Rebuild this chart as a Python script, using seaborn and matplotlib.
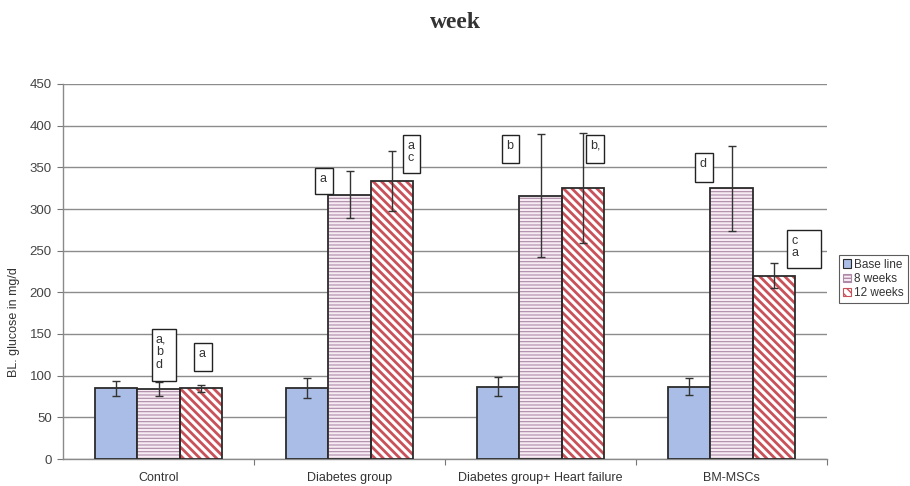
import numpy as np
import pandas as pd
import matplotlib
matplotlib.use("Agg")
import matplotlib.pyplot as plt
import seaborn as sns
from matplotlib.patches import Patch, Rectangle

# ---------------- data ----------------
groups = ["Control", "Diabetes group", "Diabetes group+ Heart failure", "BM-MSCs"]
periods = ["Base line", "8 weeks", "12 weeks"]
baseline = [85, 85, 87, 87]
weeks8 = [84, 317, 316, 325]
weeks12 = [85, 334, 325, 220]
err_baseline = [9, 12, 11, 10]
err_weeks8 = [8, 28, 74, 51]
err_weeks12 = [4, 36, 66, 15]
annot_texts = ["a,\nb\nd", "a", "a", "a\nc", "b", "b,", "d", "c\na"]
yticks = [0, 50, 100, 150, 200, 250, 300, 350, 400, 450]

# ---------------- layout (box x0, x1, y0, y1 in data units) ----------------
annot_boxes = [(-0.036, 0.09, 94, 156), (0.185, 0.28, 106, 139),
               (0.82, 0.915, 318, 349), (1.28, 1.37, 343, 389),
               (1.80, 1.89, 355, 389), (2.24, 2.335, 355, 389),
               (2.81, 2.905, 332, 367), (3.29, 3.47, 229, 275)]

df = pd.DataFrame({
    "group": np.repeat(groups, 3),
    "period": periods * 4,
    "value": np.ravel(np.column_stack([baseline, weeks8, weeks12])),
})
errs = {"Base line": err_baseline, "8 weeks": err_weeks8, "12 weeks": err_weeks12}

sns.set_theme(style="white")
plt.rcParams["font.family"] = ["Liberation Sans", "DejaVu Sans"]

fig = plt.figure(figsize=(9.1, 4.86), dpi=100)
ax = fig.add_axes([63 / 910, 27 / 486, 764 / 910, 375 / 486])

styles = {
    "Base line": dict(fc="#a9bde6", hatch=None, hc=None, hlw=1.0),
    "8 weeks": dict(fc="#f7ecf3", hatch="-----", hc="#ae8aa8", hlw=0.8),
    "12 weeks": dict(fc="#ffffff", hatch="\\\\\\\\", hc="#c9515a", hlw=2.0),
}

sns.barplot(data=df, x="group", y="value", hue="period", order=groups,
            hue_order=periods, width=0.66, errorbar=None, ax=ax,
            legend=False, zorder=3)

edge = "#2b2b2b"
for cont, per in zip(ax.containers, periods):
    st = styles[per]
    for bar in cont:
        bar.set_facecolor(st["fc"])
        bar.set_edgecolor(edge)
        bar.set_linewidth(1.3)
        if st["hatch"]:
            # hatch layer drawn with its own colour, outline drawn on top
            bar.set_edgecolor(st["hc"])
            bar.set_hatch(st["hatch"])
            if hasattr(bar, "set_hatch_linewidth"):
                bar.set_hatch_linewidth(st["hlw"])
            bar.set_linewidth(0)
            ax.add_patch(Rectangle(bar.get_xy(), bar.get_width(), bar.get_height(),
                                   fill=False, ec=edge, lw=1.3, zorder=3.5))
        xc = bar.get_x() + bar.get_width() / 2
        ci = int(round(xc))
        ax.errorbar(xc, bar.get_height(), yerr=errs[per][ci], fmt="none",
                    ecolor="#333333", elinewidth=1.0, capsize=3, capthick=1.0,
                    zorder=4)

# annotation boxes
for txt, (x0, x1, y0, y1) in zip(annot_texts, annot_boxes):
    ax.add_patch(Rectangle((x0, y0), x1 - x0, y1 - y0, fc="white", ec="#222222",
                           lw=1.0, zorder=6, clip_on=False))
    ax.text(x0 + 0.022, y1 - 6, txt, ha="left", va="top", fontsize=9,
            linespacing=1.05, color="#333333", zorder=7)

ax.set_ylim(0, 450)
ax.set_xlim(-0.5, 3.5)
ax.set_yticks(yticks)
ax.set_yticklabels([str(t) for t in yticks], fontsize=9.5, color="#444444")
ax.yaxis.grid(True, color="#8c8c8c", lw=1.0, zorder=0)
ax.set_axisbelow(True)
ax.tick_params(axis="y", length=4, width=0.8, color="#777777", pad=4, left=True)
ax.set_xticks(range(4))
ax.set_xticklabels(groups, fontsize=9, color="#333333")
ax.set_xticks([0.5, 1.5, 2.5, 3.5], minor=True)
ax.tick_params(axis="x", which="major", length=0, pad=9)
ax.tick_params(axis="x", which="minor", length=4, width=0.8, color="#777777", bottom=True)
for s in ["top", "right"]:
    ax.spines[s].set_visible(False)
for s in ["left", "bottom"]:
    ax.spines[s].set_color("#8a8a8a")
    ax.spines[s].set_linewidth(1.0)
ax.set_xlabel("")
ax.set_ylabel("BL. glucose in mg/d", fontsize=9, color="#333333")
ax.yaxis.set_label_coords(-0.056, 0.365)

handles = []
for per in periods:
    st = styles[per]
    handles.append(Patch(fc=st["fc"], ec=st["hc"] if st["hatch"] else edge,
                         hatch=st["hatch"], lw=0.8))
leg = fig.legend(handles, periods, loc="upper left",
                 bbox_to_anchor=(839 / 910, 1 - 255 / 486), fontsize=8.5,
                 frameon=True, fancybox=False, edgecolor="#333333",
                 handlelength=0.7, handleheight=0.7, handletextpad=0.3,
                 labelspacing=0.2, borderpad=0.3, borderaxespad=0)
leg.get_frame().set_linewidth(0.8)
for t in leg.get_texts():
    t.set_color("#333333")

fig.text(0.5, 1 - 22 / 486, "week", ha="center", va="center", fontsize=17,
         fontweight="bold", family=["Liberation Serif", "DejaVu Serif"],
         color="#333333")

fig.savefig("out.png", dpi=100)
